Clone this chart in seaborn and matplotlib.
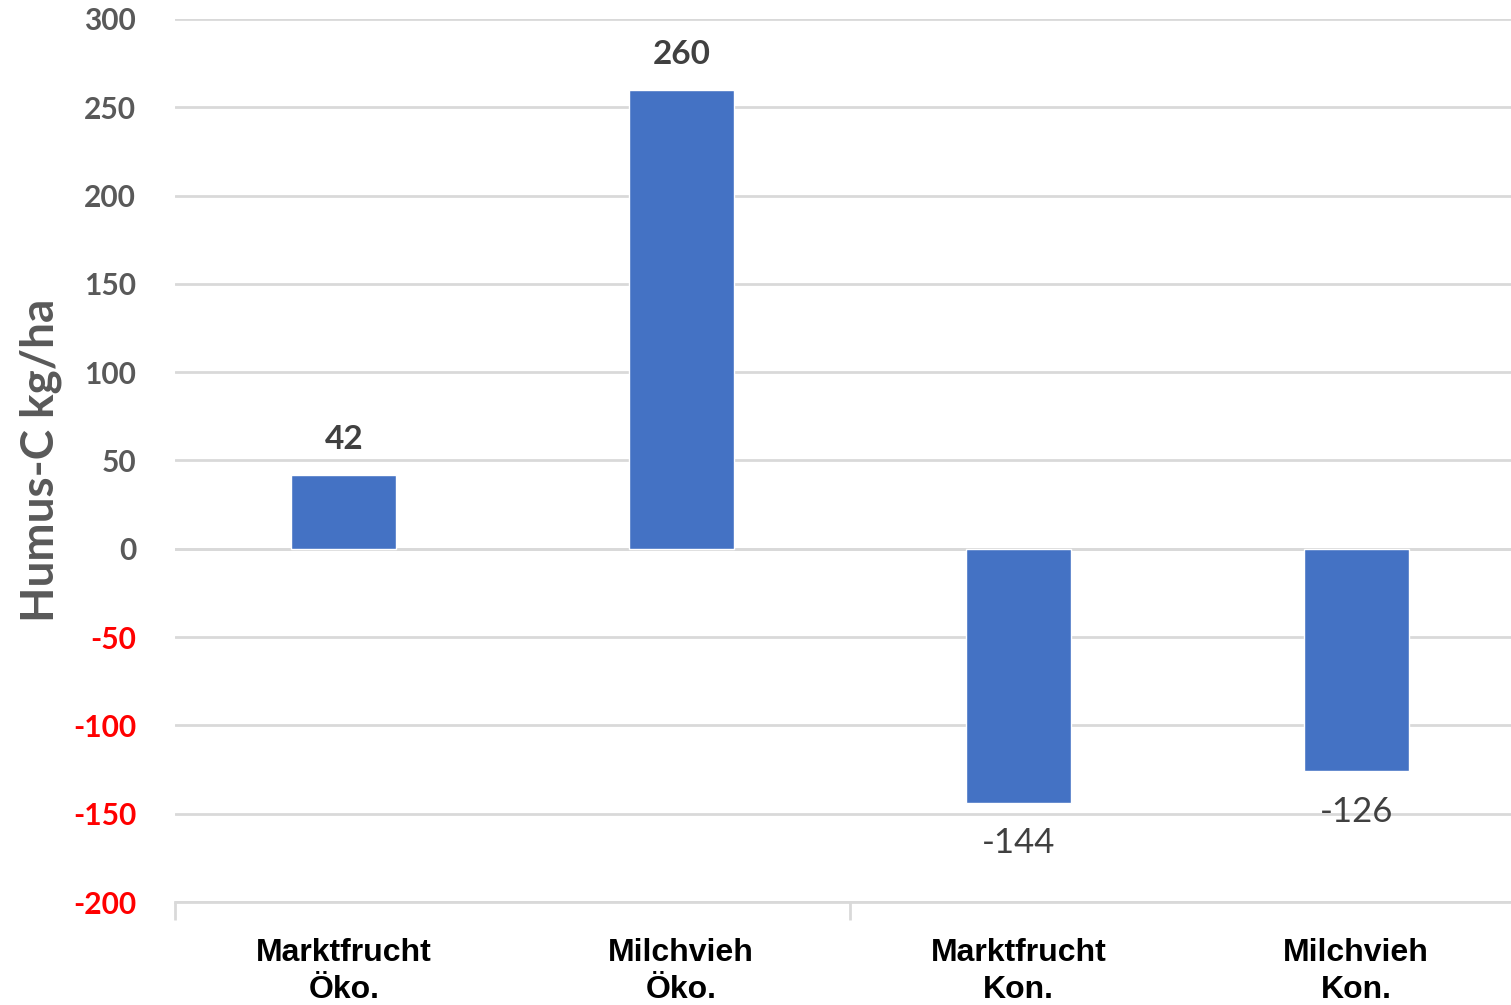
import matplotlib
matplotlib.use('Agg')
import matplotlib.pyplot as plt
import seaborn as sns

# Daten aus der Grafik
kategorien = ['Marktfrucht\nÖko.', 'Milchvieh\nÖko.', 'Marktfrucht\nKon.', 'Milchvieh\nKon.']
humus_c = [42, 260, -144, -126]
y_ticks = [300, 250, 200, 150, 100, 50, 0, -50, -100, -150, -200]

sns.set_theme(style='white')
plt.rcParams['font.family'] = ['Lato', 'DejaVu Sans']
plt.rcParams['axes.unicode_minus'] = False

fig = plt.figure(figsize=(15.11, 10.05), dpi=100)
ax = fig.add_axes([175 / 1511, 1 - 902 / 1005, 1350 / 1511, 883 / 1005])

sns.barplot(x=kategorien, y=humus_c, color='#4472C4', width=0.31,
            saturation=1, ax=ax, zorder=3)

ax.set_ylim(-200, 300)
ax.set_xlim(-0.5, 3.5)
ax.set_yticks(y_ticks)
ax.yaxis.grid(True, color='#d9d9d9', linewidth=2, zorder=0)
ax.xaxis.grid(False)
ax.axhline(0, color='#d9d9d9', linewidth=2, zorder=1)

for s in ['top', 'right', 'left']:
    ax.spines[s].set_visible(False)
ax.spines['bottom'].set_color('#d9d9d9')
ax.spines['bottom'].set_linewidth(2)

# Y-Achse
ax.tick_params(axis='y', length=0, pad=28)
for lbl, val in zip(ax.get_yticklabels(), ax.get_yticks()):
    lbl.set_fontweight('bold')
    lbl.set_fontsize(21.5)
    lbl.set_color('#ff0000' if val < 0 else '#595959')

ax.set_ylabel('Humus-C kg/ha', fontsize=33, fontweight='bold', color='#595959', labelpad=8)

# X-Achse: Kategorienbeschriftung, Gruppentrenner als Ticks
ax.set_xticks(range(len(kategorien)))
ax.set_xticklabels(kategorien, fontsize=23, fontweight='bold', color='black',
                   family=['Liberation Sans', 'DejaVu Sans'], linespacing=1.3)
ax.tick_params(axis='x', length=0, pad=26)
ax.set_xticks([-0.5, 1.5, 3.5], minor=True)
ax.tick_params(axis='x', which='minor', length=13, width=2, color='#d9d9d9', direction='out', bottom=True)

# Datenbeschriftungen
for i, v in enumerate(humus_c):
    if v >= 0:
        ax.annotate(str(v), (i, v), xytext=(0, 25), textcoords='offset points',
                    ha='center', va='center', fontsize=24, fontweight='bold', color='#404040')
    else:
        ax.annotate(str(v), (i, v), xytext=(0, -29), textcoords='offset points',
                    ha='center', va='center', fontsize=25, color='#404040')

fig.savefig('out.png', dpi=100)
